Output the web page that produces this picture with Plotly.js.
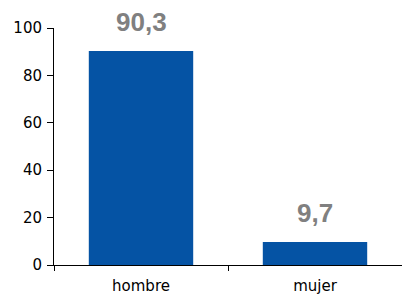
<!DOCTYPE html>
<html><head><meta charset="utf-8">
<script src="https://cdn.plot.ly/plotly-3.0.1.min.js"></script>
<style>html,body{margin:0;padding:0;background:#fff}#c{width:402px;height:296px}</style>
</head><body><div id="c"></div>
<script>
var categories = ['hombre', 'mujer'];
var values = [90.3, 9.7];
var valueLabels = ['90,3', '9,7'];
var yTicks = [0, 20, 40, 60, 80, 100];

var trace = {
  type: 'bar', x: categories, y: values,
  marker: {color: '#0553A4'}, width: 0.6, hoverinfo: 'none'
};
var annotations = categories.map(function(c, i){
  return {x: c, y: values[i], xref: 'x', yref: 'y', text: valueLabels[i], showarrow: false,
    yanchor: 'bottom', yshift: 12,
    font: {family: 'Liberation Sans, Arial, sans-serif', size: 26, color: '#808080', weight: 'bold'}};
});
var layout = {
  width: 402, height: 296,
  margin: {l: 54, r: 0, t: 28, b: 31},
  paper_bgcolor: '#fff', plot_bgcolor: '#fff',
  showlegend: false,
  font: {family: 'DejaVu Sans, Verdana, sans-serif', size: 15, color: '#000'},
  xaxis: {type: 'category', showline: true, linecolor: '#000', linewidth: 1,
    ticks: 'outside', tickson: 'boundaries', ticklen: 5, tickcolor: '#000',
    ticklabelstandoff: 7,
    showgrid: false, zeroline: false, fixedrange: true},
  yaxis: {range: [0, 100], tickvals: yTicks, showline: true, linecolor: '#000', linewidth: 1,
    ticks: 'outside', ticklen: 6, tickcolor: '#000', ticklabelstandoff: 2,
    showgrid: false, zeroline: false, fixedrange: true},
  annotations: annotations
};
Plotly.newPlot('c', [trace], layout, {displayModeBar: false, staticPlot: true});
</script></body></html>
